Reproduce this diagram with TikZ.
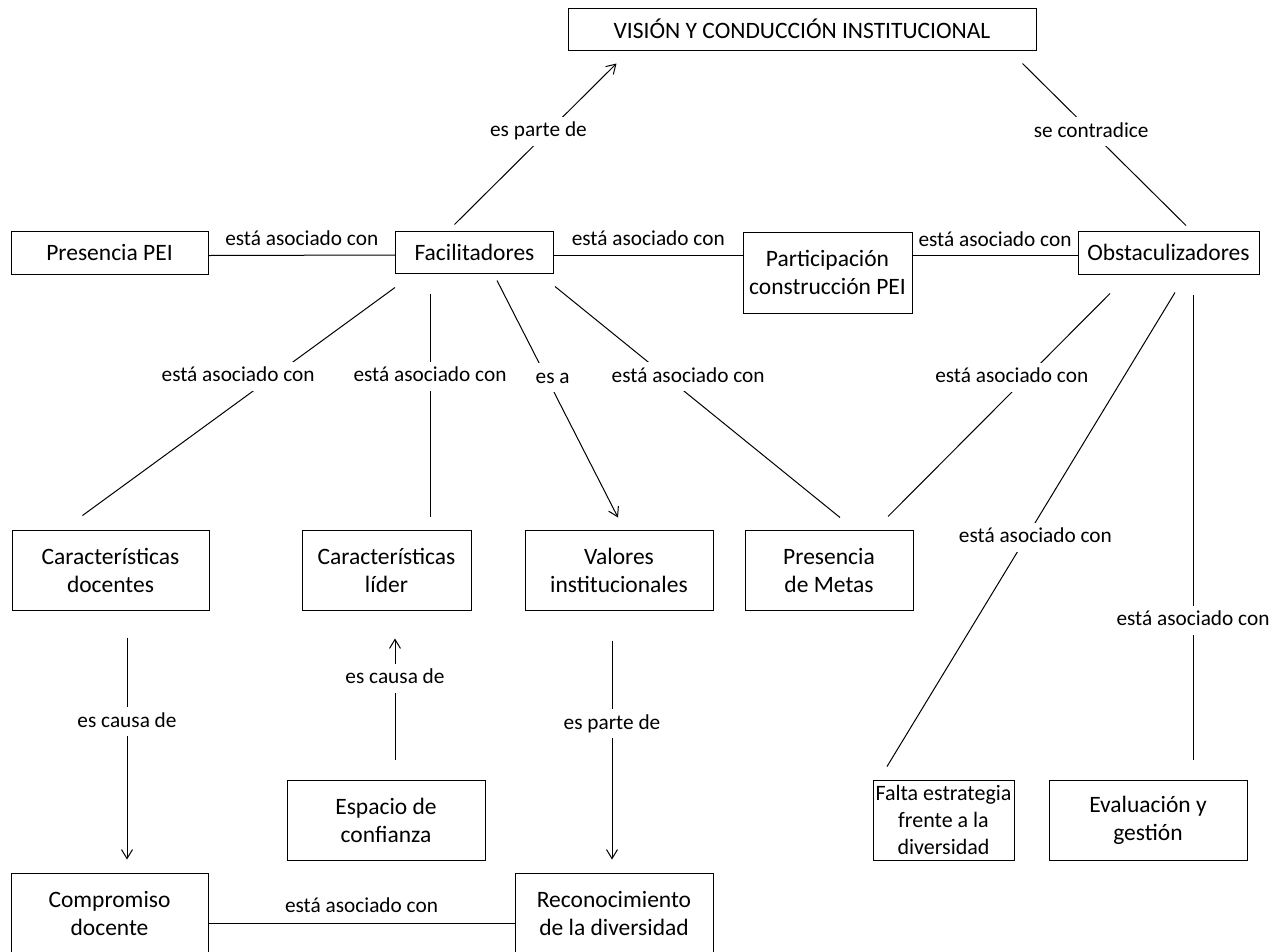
\documentclass[tikz,border=0pt]{standalone}
\usepackage{fontspec}
\setmainfont{Carlito}
\usetikzlibrary{arrows.meta}

\tikzset{
  concept/.style={draw, line width=1pt, align=center, inner sep=0pt,
    font=\fontsize{23.5}{28}\selectfont},
  rel/.style={fill=white, inner xsep=3pt, inner ysep=5pt, text height=15pt, text depth=4pt,
    font=\fontsize{21.3}{24}\selectfont},
  link/.style={line width=1pt},
  flow/.style={line width=1pt, -{Straight Barb[length=9pt,width=11pt]}}
}

\begin{document}
\begin{tikzpicture}[x=1pt, y=-1pt]
\useasboundingbox (0,0) rectangle (1282,951);
%%top
\node[concept, minimum width=468pt, minimum height=42pt] (vision) at (802,29)
  {VISIÓN Y CONDUCCIÓN INSTITUCIONAL};
%%second row
\node[concept, minimum width=197pt, minimum height=43pt] (ppei) at (109.5,252.5) {Presencia PEI};
\node[concept, minimum width=158pt, minimum height=42pt] (fac) at (474.5,252) {Facilitadores};
\node[concept, minimum width=169pt, minimum height=81pt] (part) at (827.5,272.5)
  {Participación\\construcción PEI};
\node[concept, minimum width=181pt, minimum height=43pt] (obs) at (1168.5,252.5) {Obstaculizadores};
%%third row
\node[concept, minimum width=197pt, minimum height=80pt] (cdoc) at (110.5,570) {Características\\docentes};
\node[concept, minimum width=169pt, minimum height=80pt] (clid) at (386.5,570) {Características\\líder};
\node[concept, minimum width=188pt, minimum height=80pt] (val) at (619,570) {Valores\\institucionales};
\node[concept, minimum width=168pt, minimum height=80pt] (meta) at (829,570) {Presencia\\de Metas};
%%fourth row
\node[concept, minimum width=198pt, minimum height=80pt] (esp) at (386,820) {Espacio de\\confianza};
\node[concept, minimum width=141pt, minimum height=80pt, font=\fontsize{22}{27}\selectfont]
  (falta) at (943.5,820) {Falta estrategia\\frente a la\\diversidad};
\node[concept, minimum width=198pt, minimum height=80pt] (eval) at (1148,820) {Evaluación y\\gestión};
%%bottom row
\node[concept, minimum width=197pt, minimum height=80pt] (comp) at (109.5,913) {Compromiso\\docente};
\node[concept, minimum width=198pt, minimum height=80pt] (recon) at (614,913) {Reconocimiento\\de la diversidad};

%facilitadores / obstaculizadores -> vision
\draw[flow] ([xshift=-20pt,yshift=6pt]fac.north) -- ([xshift=49pt,yshift=-13pt]vision.south west)
  node[rel, pos=.58, xshift=-10pt] {es parte de};
\draw[link] ([xshift=-14pt,yshift=-13pt]vision.south east) -- ([xshift=17.5pt,yshift=5pt]obs.north)
  node[rel, pos=.42] {se contradice};
%horizontal links
\draw[link] ([yshift=-3pt]ppei.east) -- ([yshift=-3pt]fac.west)
  node[midway, above=0pt, rel, fill=none] {está asociado con};
\draw[link] ([yshift=-3pt]fac.east) -- ([yshift=-3pt]part.west |- fac.east)
  node[midway, above=0pt, rel, fill=none] {está asociado con};
\draw[link] ([yshift=-3pt]part.east |- obs.west) -- ([yshift=-3pt]obs.west)
  node[midway, above=0pt, rel, fill=none] {está asociado con};
%facilitadores
\draw[link] ([yshift=-14pt]fac.south west) -- ([xshift=-28pt,yshift=14pt]cdoc.north)
  node[rel, pos=.39, xshift=-35pt] {está asociado con};
\draw[link] ([xshift=-44.5pt,yshift=-20pt]fac.south) -- ([xshift=43.5pt,yshift=13pt]clid.north)
  node[rel, pos=.37] {está asociado con};
\draw[flow] ([xshift=22.5pt,yshift=-7pt]fac.south) -- ([xshift=-1pt,yshift=12pt]val.north)
  node[rel, pos=.41, xshift=6pt] {es a};
\draw[link] ([xshift=1pt,yshift=-13pt]fac.south east) -- ([xshift=11pt,yshift=12pt]meta.north)
  node[rel, pos=.39, xshift=22pt] {está asociado con};
%obstaculizadores
\draw[link] ([xshift=-58.5pt,yshift=-19pt]obs.south) -- ([xshift=59pt,yshift=13pt]meta.north)
  node[rel, pos=.375, xshift=-15pt] {está asociado con};
\draw[link] ([xshift=6.5pt,yshift=-18pt]obs.south) -- ([xshift=-56.5pt,yshift=13pt]falta.north)
  node[rel, pos=.516, xshift=9pt] {está asociado con};
\draw[link] ([xshift=24.5pt,yshift=-20pt]obs.south) -- ([xshift=45pt,yshift=20pt]eval.north)
  node[rel, pos=.70] {está asociado con};
%lower part
\draw[flow] ([xshift=16.5pt,yshift=-27pt]cdoc.south) -- ([xshift=17.5pt,yshift=13pt]comp.north)
  node[rel, pos=.38] {es causa de};
\draw[flow] ([xshift=9pt,yshift=20pt]esp.north) -- ([xshift=8.5pt,yshift=-28pt]clid.south)
  node[rel, pos=.67] {es causa de};
\draw[flow] ([xshift=-7pt,yshift=-30pt]val.south) -- ([xshift=-2pt,yshift=13pt]recon.north)
  node[rel, pos=.38] {es parte de};
\draw[link] ([yshift=-10pt]comp.east) -- ([yshift=-10pt]recon.west)
  node[midway, above=1pt, rel, fill=none] {está asociado con};
\end{tikzpicture}
\end{document}
